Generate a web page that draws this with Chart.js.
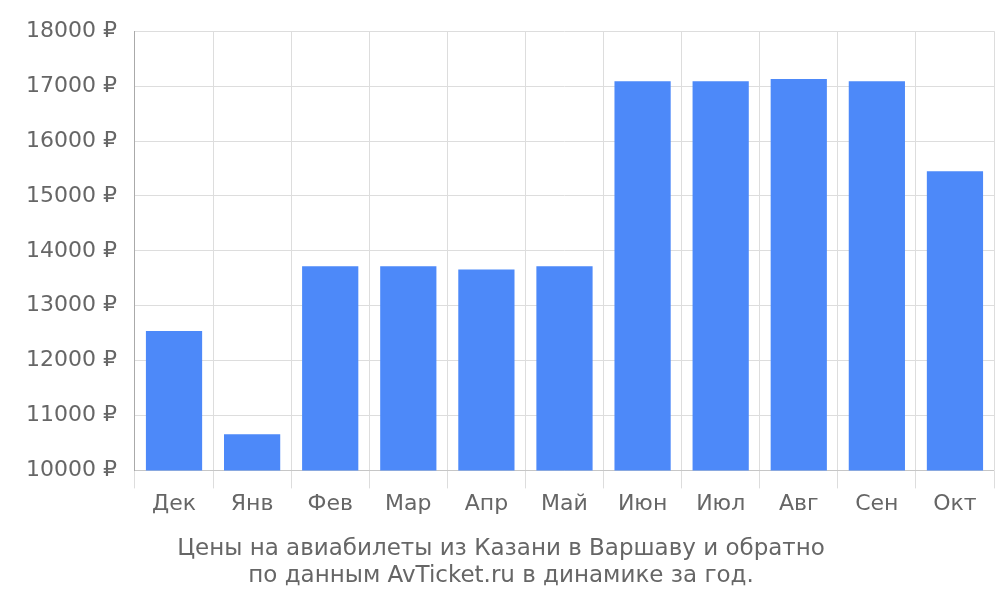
<!DOCTYPE html>
<html><head><meta charset="utf-8">
<script src="https://cdn.jsdelivr.net/npm/chart.js@4"></script>
<style>html,body{margin:0;padding:0;background:#fff}#w{width:1000px;height:600px}</style>
</head><body><div id="w"><canvas id="c"></canvas></div>
<script>
const categories = ["Дек","Янв","Фев","Мар","Апр","Май","Июн","Июл","Авг","Сен","Окт"];
const prices = [12540, 10660, 13720, 13720, 13660, 13720, 17090, 17090, 17130, 17090, 15450];
const titleLines = ["Цены на авиабилеты из Казани в Варшаву и обратно","по данным AvTicket.ru в динамике за год."];
Chart.defaults.font.family = "DejaVu Sans";
Chart.defaults.color = "#666";
new Chart(document.getElementById('c'), {
  type: 'bar',
  data: { labels: categories, datasets: [{ data: prices, backgroundColor: '#4d89f9', barPercentage: 0.72, categoryPercentage: 1 }] },
  options: {
    responsive: true, maintainAspectRatio: false, animation: false,
    layout: { padding: { top: 0, right: 6, bottom: 10, left: 8 } },
    plugins: { legend: { display: false }, tooltip: { enabled: false },
      title: { display: true, position: 'bottom', text: titleLines, font: { size: 23, weight: 'normal' }, color: '#666', padding: { top: 14, bottom: 0 }, lineHeight: 1.15 } },
    scales: {
      x: { grid: { color: '#ddd', offset: true, tickLength: 18 }, ticks: { font: { size: 22 }, color: '#666' } },
      y: { min: 10000, max: 18000, grid: { color: '#ddd', drawTicks: false }, border: { color: '#aaa' },
        ticks: { stepSize: 1000, padding: 18, font: { size: 22 }, color: '#666', callback: v => v + ' ₽' } }
    }
  }
});
</script></body></html>
